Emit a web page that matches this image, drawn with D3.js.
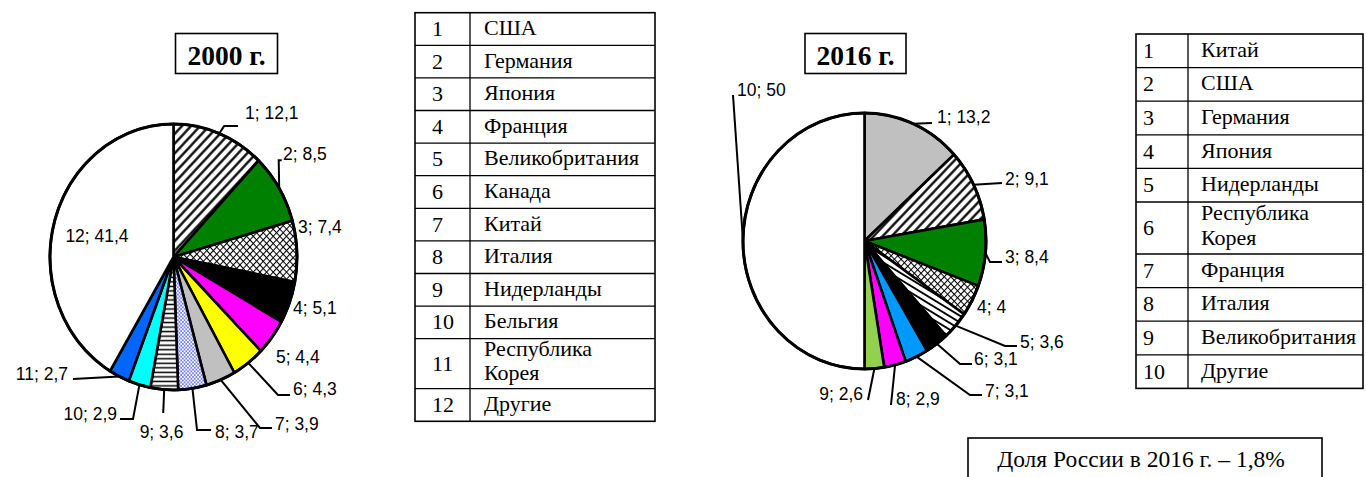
<!DOCTYPE html>
<html>
<head>
<meta charset="utf-8">
<script src="https://cdn.jsdelivr.net/npm/d3@7"></script>
<style>
  body { margin: 0; background: #fff; }
  svg { display: block; }
</style>
</head>
<body>
<svg id="chart" width="1366" height="477"></svg>
<script>
// Shares of leading countries in world trade, 2000 and 2016 (%)
const years = ["2000 г.", "2016 г."];

const values2000 = [12.1, 8.5, 7.4, 5.1, 4.4, 4.3, 3.9, 3.7, 3.6, 2.9, 2.7, 41.4];
const countries2000 = ["США", "Германия", "Япония", "Франция", "Великобритания", "Канада",
  "Китай", "Италия", "Нидерланды", "Бельгия", "Республика Корея", "Другие"];

const values2016 = [13.2, 9.1, 8.4, 4, 3.6, 3.1, 3.1, 2.9, 2.6, 50];
const countries2016 = ["Китай", "США", "Германия", "Япония", "Нидерланды", "Республика Корея",
  "Франция", "Италия", "Великобритания", "Другие"];

const russiaShare2016 = 1.8;

// ---- styles ----
const fills2000 = ["url(#diag)", "#008000", "url(#cross)", "#000000", "#ff00ff", "#ffff00",
  "#c0c0c0", "url(#dots)", "url(#hstripe)", "#00ffff", "#0066ff", "#ffffff"];
const fills2016 = ["#c0c0c0", "url(#diag)", "#008000", "url(#cross)", "url(#dstripe)", "#000000",
  "#0099ff", "#ff00ff", "#92d050", "#ffffff"];

// label placement relative to the point on the rim at each slice's middle angle
const labelLayout2000 = [
  { t: [25.7, -14.4], a: "start", l: [[4.7, -7.4], [18.7, -7.4]] },
  { t: [3.8, -28.2], a: "start", l: [[-0.5, -28], [2.5, -28]] },
  { t: [1.1, -18.2], a: "start" },
  { t: [3.4, 11.5], a: "start" },
  { t: [3.9, 25.8], a: "start" },
  { t: [44.7, 32.1], a: "start", l: [[29.7, 32.1], [41.7, 32.1]] },
  { t: [54.2, 50.1], a: "start", l: [[39.2, 48.1], [51.2, 48.1]] },
  { t: [22.6, 49.6], a: "start", l: [[4.6, 41.6], [18.6, 41.6]] },
  { t: [-2.7, 48.4], a: "middle", l: [[-1, 23.4]] },
  { t: [-22.4, 35.2], a: "end", l: [[-6.4, 34.2], [-19.4, 34.2]] },
  { t: [-51.2, 3.5], a: "end", l: [[-46.2, 2.5]] },
  { t: [42.5, 20.5], a: "middle" }
];
const labelLayout2016 = [
  { t: [23.5, -0.9], a: "start", l: [[18.5, -0.9]] },
  { t: [31.4, 0.3], a: "start", l: [[28.4, -1.7]] },
  { t: [19.5, 10], a: "start", l: [[4.5, 9], [16.5, 9]] },
  { t: [5, 12.5], a: "start" },
  { t: [64.4, 22.4], a: "start", l: [[49.4, 20.4], [61.4, 20.4]] },
  { t: [37.2, 21.2], a: "start", l: [[23.2, 20.2], [35.2, 20.2]] },
  { t: [68.4, 40.4], a: "start", l: [[53.4, 38.4], [65.4, 38.4]] },
  { t: [0.9, 40.1], a: "start", l: [[-4.1, 40.1]] },
  { t: [-11.4, 31.4], a: "end", l: [[-6.4, 31.4]] },
  { t: [-6, -145], a: "start", l: [[-10, -146]] }
];

const svg = d3.select("#chart");
const defs = svg.append("defs");

// ---- hatch patterns ----
function stripePattern(id, size, angle, strokeW, color) {
  const p = defs.append("pattern").attr("id", id)
    .attr("patternUnits", "userSpaceOnUse")
    .attr("width", size).attr("height", size)
    .attr("patternTransform", `rotate(${angle})`);
  p.append("rect").attr("width", size).attr("height", size).attr("fill", "#fff");
  p.append("line").attr("x1", size / 2).attr("x2", size / 2).attr("y1", 0).attr("y2", size)
    .attr("stroke", color).attr("stroke-width", strokeW);
}
stripePattern("diag", 6.4, 45, 2.2, "#000");
stripePattern("dstripe", 5.5, -60, 1.8, "#000");
stripePattern("hstripe", 4.2, 90, 1.4, "#000");

(function () {
  const s = 4.7;
  const p = defs.append("pattern").attr("id", "cross")
    .attr("patternUnits", "userSpaceOnUse")
    .attr("width", s).attr("height", s)
    .attr("patternTransform", "rotate(45)");
  p.append("rect").attr("width", s).attr("height", s).attr("fill", "#fff");
  p.append("line").attr("x1", 0).attr("x2", s).attr("y1", 0.5).attr("y2", 0.5)
    .attr("stroke", "#000").attr("stroke-width", 1);
  p.append("line").attr("x1", 0.5).attr("x2", 0.5).attr("y1", 0).attr("y2", s)
    .attr("stroke", "#000").attr("stroke-width", 1);
})();

(function () {
  const s = 3.4;
  const p = defs.append("pattern").attr("id", "dots")
    .attr("patternUnits", "userSpaceOnUse")
    .attr("width", s).attr("height", s);
  p.append("rect").attr("width", s).attr("height", s).attr("fill", "#fff");
  p.append("circle").attr("cx", s / 4).attr("cy", s / 4).attr("r", 0.75).attr("fill", "#2a3cff");
  p.append("circle").attr("cx", 3 * s / 4).attr("cy", 3 * s / 4).attr("r", 0.75).attr("fill", "#2a3cff");
})();

const fmt = v => String(v).replace(".", ",");

// ---- pie drawing ----
function drawPie(values, fills, layout, cx, cy, rx, ry) {
  const pie = d3.pie().sort(null).value(d => d);
  const arcs = pie(values);
  const arc = d3.arc().innerRadius(0).outerRadius(rx);

  const g = svg.append("g")
    .attr("transform", `translate(${cx},${cy}) scale(1,${ry / rx})`);

  g.selectAll("path.slice")
    .data(arcs)
    .join("path")
    .attr("class", "slice")
    .attr("d", arc)
    .attr("fill", (d, i) => fills[i])
    .attr("stroke", "#000")
    .attr("stroke-width", 2.6)
    .attr("stroke-linejoin", "round")
    .attr("vector-effect", "non-scaling-stroke");

  g.append("ellipse")
    .attr("rx", rx).attr("ry", rx)
    .attr("fill", "none")
    .attr("stroke", "#000")
    .attr("stroke-width", 3)
    .attr("vector-effect", "non-scaling-stroke");

  const labels = svg.append("g");
  arcs.forEach((d, i) => {
    const a = (d.startAngle + d.endAngle) / 2;
    const ax = cx + rx * Math.sin(a);
    const ay = cy - ry * Math.cos(a);
    const L = layout[i];
    if (L.l) {
      const pts = [[ax, ay]].concat(L.l.map(p => [ax + p[0], ay + p[1]]));
      labels.append("path")
        .attr("d", d3.line()(pts))
        .attr("fill", "none")
        .attr("stroke", "#000")
        .attr("stroke-width", 2);
    }
    labels.append("text")
      .attr("transform", `translate(${ax + L.t[0]},${ay + L.t[1]}) scale(1,1.1)`)
      .attr("text-anchor", L.a)
      .attr("font-family", "'Liberation Sans', Arial, sans-serif")
      .attr("font-size", 17.5)
      .attr("fill", "#000")
      .text(`${i + 1}; ${fmt(d.data)}`);
  });
}

drawPie(values2000, fills2000, labelLayout2000, 173.5, 257, 123.5, 133);
drawPie(values2016, fills2016, labelLayout2016, 864.5, 241, 121.5, 128);

// ---- year captions ----
function titleBox(x, y, w, h, label) {
  svg.append("rect").attr("x", x).attr("y", y).attr("width", w).attr("height", h)
    .attr("fill", "#fff").attr("stroke", "#000").attr("stroke-width", 1.6);
  svg.append("text").attr("x", x + w / 2).attr("y", y + 31)
    .attr("text-anchor", "middle")
    .attr("font-family", "'Liberation Serif', 'Times New Roman', serif")
    .attr("font-weight", "bold").attr("font-size", 27.5)
    .text(label);
}
titleBox(175.5, 33.5, 102, 40, years[0]);
titleBox(805, 33.5, 101, 40, years[1]);

// ---- country tables ----
function drawTable(names, x, y, w, divX, rowH, tallH, numDx, nameDx) {
  const g = svg.append("g")
    .attr("font-family", "'Liberation Serif', 'Times New Roman', serif")
    .attr("font-size", 22)
    .attr("fill", "#000");
  let top = y;
  names.forEach((name, i) => {
    const words = name.split(" ");
    const h = words.length > 1 ? tallH : rowH;
    const mid = top + h / 2;
    g.append("text").attr("x", x + numDx).attr("y", mid + 7).text(i + 1);
    if (words.length > 1) {
      g.append("text").attr("x", x + divX + nameDx).attr("y", mid - 8).text(words[0]);
      g.append("text").attr("x", x + divX + nameDx).attr("y", mid + 16.5).text(words[1]);
    } else {
      g.append("text").attr("x", x + divX + nameDx).attr("y", mid + 6).text(name);
    }
    if (i > 0) {
      g.append("line").attr("x1", x).attr("x2", x + w).attr("y1", top).attr("y2", top)
        .attr("stroke", "#000").attr("stroke-width", 1.3);
    }
    top += h;
  });
  g.append("rect").attr("x", x).attr("y", y).attr("width", w).attr("height", top - y)
    .attr("fill", "none").attr("stroke", "#000").attr("stroke-width", 1.6);
  g.append("line").attr("x1", x + divX).attr("x2", x + divX).attr("y1", y).attr("y2", top)
    .attr("stroke", "#000").attr("stroke-width", 1.3);
}
drawTable(countries2000, 415, 12.7, 240, 55, 32.6, 50, 17, 14);
drawTable(countries2016, 1136, 34, 227, 52, 33.6, 52, 7, 13);

// ---- Russia note ----
svg.append("rect").attr("x", 968).attr("y", 438).attr("width", 354).attr("height", 60)
  .attr("fill", "#fff").attr("stroke", "#000").attr("stroke-width", 1.6);
svg.append("text").attr("x", 1141).attr("y", 467)
  .attr("text-anchor", "middle")
  .attr("font-family", "'Liberation Serif', 'Times New Roman', serif")
  .attr("font-size", 23.5)
  .text(`Доля России в 2016 г. – ${fmt(russiaShare2016)}%`);
</script>
</body>
</html>
